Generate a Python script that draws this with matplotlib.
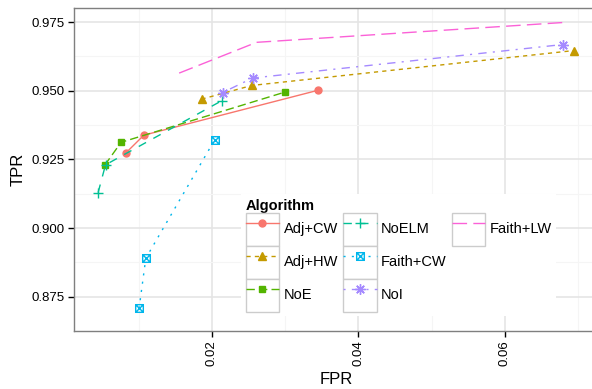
import matplotlib
matplotlib.use("Agg")
import matplotlib.pyplot as plt
from matplotlib.path import Path
from matplotlib.patches import Rectangle
from matplotlib.lines import Line2D
from matplotlib.legend_handler import HandlerLine2D, HandlerBase

plt.rcParams['font.family'] = ['Liberation Sans', 'DejaVu Sans']

# data (FPR, TPR per algorithm)
algorithms = ['Adj+CW', 'Adj+HW', 'NoE', 'NoELM', 'Faith+CW', 'NoI', 'Faith+LW']
fpr = {
    'Adj+CW': [0.00822, 0.01072, 0.03443],
    'Adj+HW': [0.01859, 0.02546, 0.06938],
    'NoE': [0.00539, 0.00762, 0.03000],
    'NoELM': [0.00448, 0.00549, 0.02132],
    'Faith+CW': [0.01007, 0.01099, 0.02041],
    'NoI': [0.02146, 0.02556, 0.06788],
    'Faith+LW': [0.01554, 0.02610, 0.06842],
}
tpr = {
    'Adj+CW': [0.9272, 0.9338, 0.9501],
    'Adj+HW': [0.9469, 0.9519, 0.9646],
    'NoE': [0.9229, 0.9312, 0.9495],
    'NoELM': [0.9129, 0.9230, 0.9463],
    'Faith+CW': [0.8707, 0.8890, 0.9322],
    'NoI': [0.9493, 0.9546, 0.9668],
    'Faith+LW': [0.9564, 0.9676, 0.9749],
}

colors = ['#F8766D', '#C49A00', '#53B400', '#00C094', '#00B6EB', '#A58AFF', '#FB61D7']

# ggplot-like linetypes
u = 1.5
dashes = [None, (2*u, 2*u), (4*u, 2*u), (4*u, 4*u), (1*u, 3*u),
          (1*u, 3*u, 4*u, 3*u), (7*u, 3*u)]

# open square with an X inside (ggplot shape 7)
box_x = Path([(-1, -1), (1, -1), (1, 1), (-1, 1), (-1, -1), (1, 1), (-1, 1), (1, -1)],
             [Path.MOVETO, Path.LINETO, Path.LINETO, Path.LINETO, Path.LINETO,
              Path.LINETO, Path.MOVETO, Path.LINETO])
markers = ['o', '^', 's', '+', box_x, (8, 2, 0), None]
msizes = [5, 5.5, 5, 7.5, 5.5, 7.5, 0]


class BoxedHandler(HandlerLine2D):
    def create_artists(self, legend, orig_handle, xdescent, ydescent,
                       width, height, fontsize, trans):
        arts = super().create_artists(legend, orig_handle, xdescent, ydescent,
                                      width, height, fontsize, trans)
        box = Rectangle((-xdescent, -ydescent), width, height, facecolor='white',
                        edgecolor='#cccccc', linewidth=1.0, transform=trans)
        return [box] + list(arts)


class BlankHandler(HandlerBase):
    def create_artists(self, legend, orig_handle, xdescent, ydescent,
                       width, height, fontsize, trans):
        r = Rectangle((0, 0), 1, 1, visible=False, transform=trans)
        return [r]


fig = plt.figure(figsize=(5.92, 3.89), dpi=100)
ax = fig.add_axes([74.3 / 592, 58 / 389, (598 - 74.3) / 592, (381 - 58) / 389])

lines = []
for i, name in enumerate(algorithms):
    kw = dict(color=colors[i], linewidth=1.0, label=name)
    if markers[i] is not None:
        kw.update(marker=markers[i], markersize=msizes[i])
        if markers[i] is box_x:
            kw.update(markerfacecolor='none', markeredgewidth=1.0)
        elif markers[i] in ('+', (8, 2, 0)):
            kw.update(markeredgewidth=1.0)
    ln, = ax.plot(fpr[name], tpr[name], **kw)
    if dashes[i] is not None:
        ln.set_dashes(dashes[i])
    lines.append(ln)

ax.set_xlim(0.00123, 0.0727)
ax.set_ylim(0.8655, 0.9801)
ax.set_xticks([0.02, 0.04, 0.06])
ax.set_xticklabels(['0.02', '0.04', '0.06'], rotation=90)
ax.set_yticks([0.875, 0.900, 0.925, 0.950, 0.975])
ax.set_yticklabels(['0.875', '0.900', '0.925', '0.950', '0.975'])
ax.set_xticks([0.01, 0.03, 0.05, 0.07], minor=True)
ax.set_yticks([0.8625, 0.8875, 0.9125, 0.9375, 0.9625], minor=True)
ax.tick_params(which='major', length=4, width=1.0, color='black',
               labelsize=9.5, labelcolor='black', pad=3)
ax.tick_params(which='minor', length=0)
ax.grid(which='major', color='#e5e5e5', linewidth=1.2)
ax.grid(which='minor', color='#f5f5f5', linewidth=0.8)
ax.set_axisbelow(True)
for s in ax.spines.values():
    s.set_color('#7f7f7f')
    s.set_linewidth(1.0)

ax.set_xlabel('FPR', fontsize=12, labelpad=4)
ax.set_ylabel('TPR', fontsize=12, labelpad=4)

# two empty slots so the legend fills 3 + 3 + 1 like the reference
blanks = [Line2D([], [], linestyle='none') for _ in range(2)]
handles = lines + blanks
labels = algorithms + ['', '']
hmap = {l: BoxedHandler() for l in lines}
hmap.update({b: BlankHandler() for b in blanks})

leg = ax.legend(handles=handles, labels=labels, ncol=3, title='Algorithm', loc='upper left',
                bbox_to_anchor=(234 / 592, 1 - 187 / 389), bbox_transform=fig.transFigure,
                handler_map=hmap,
                handlelength=2.3, handleheight=3.1, labelspacing=0,
                handletextpad=0.3, columnspacing=0.35, borderpad=0.3,
                fontsize=10.5, title_fontproperties={'weight': 'bold', 'size': 10.5},
                alignment='left', frameon=True, fancybox=False,
                facecolor='white', edgecolor='none', framealpha=1)

fig.savefig('out.png', dpi=100)
